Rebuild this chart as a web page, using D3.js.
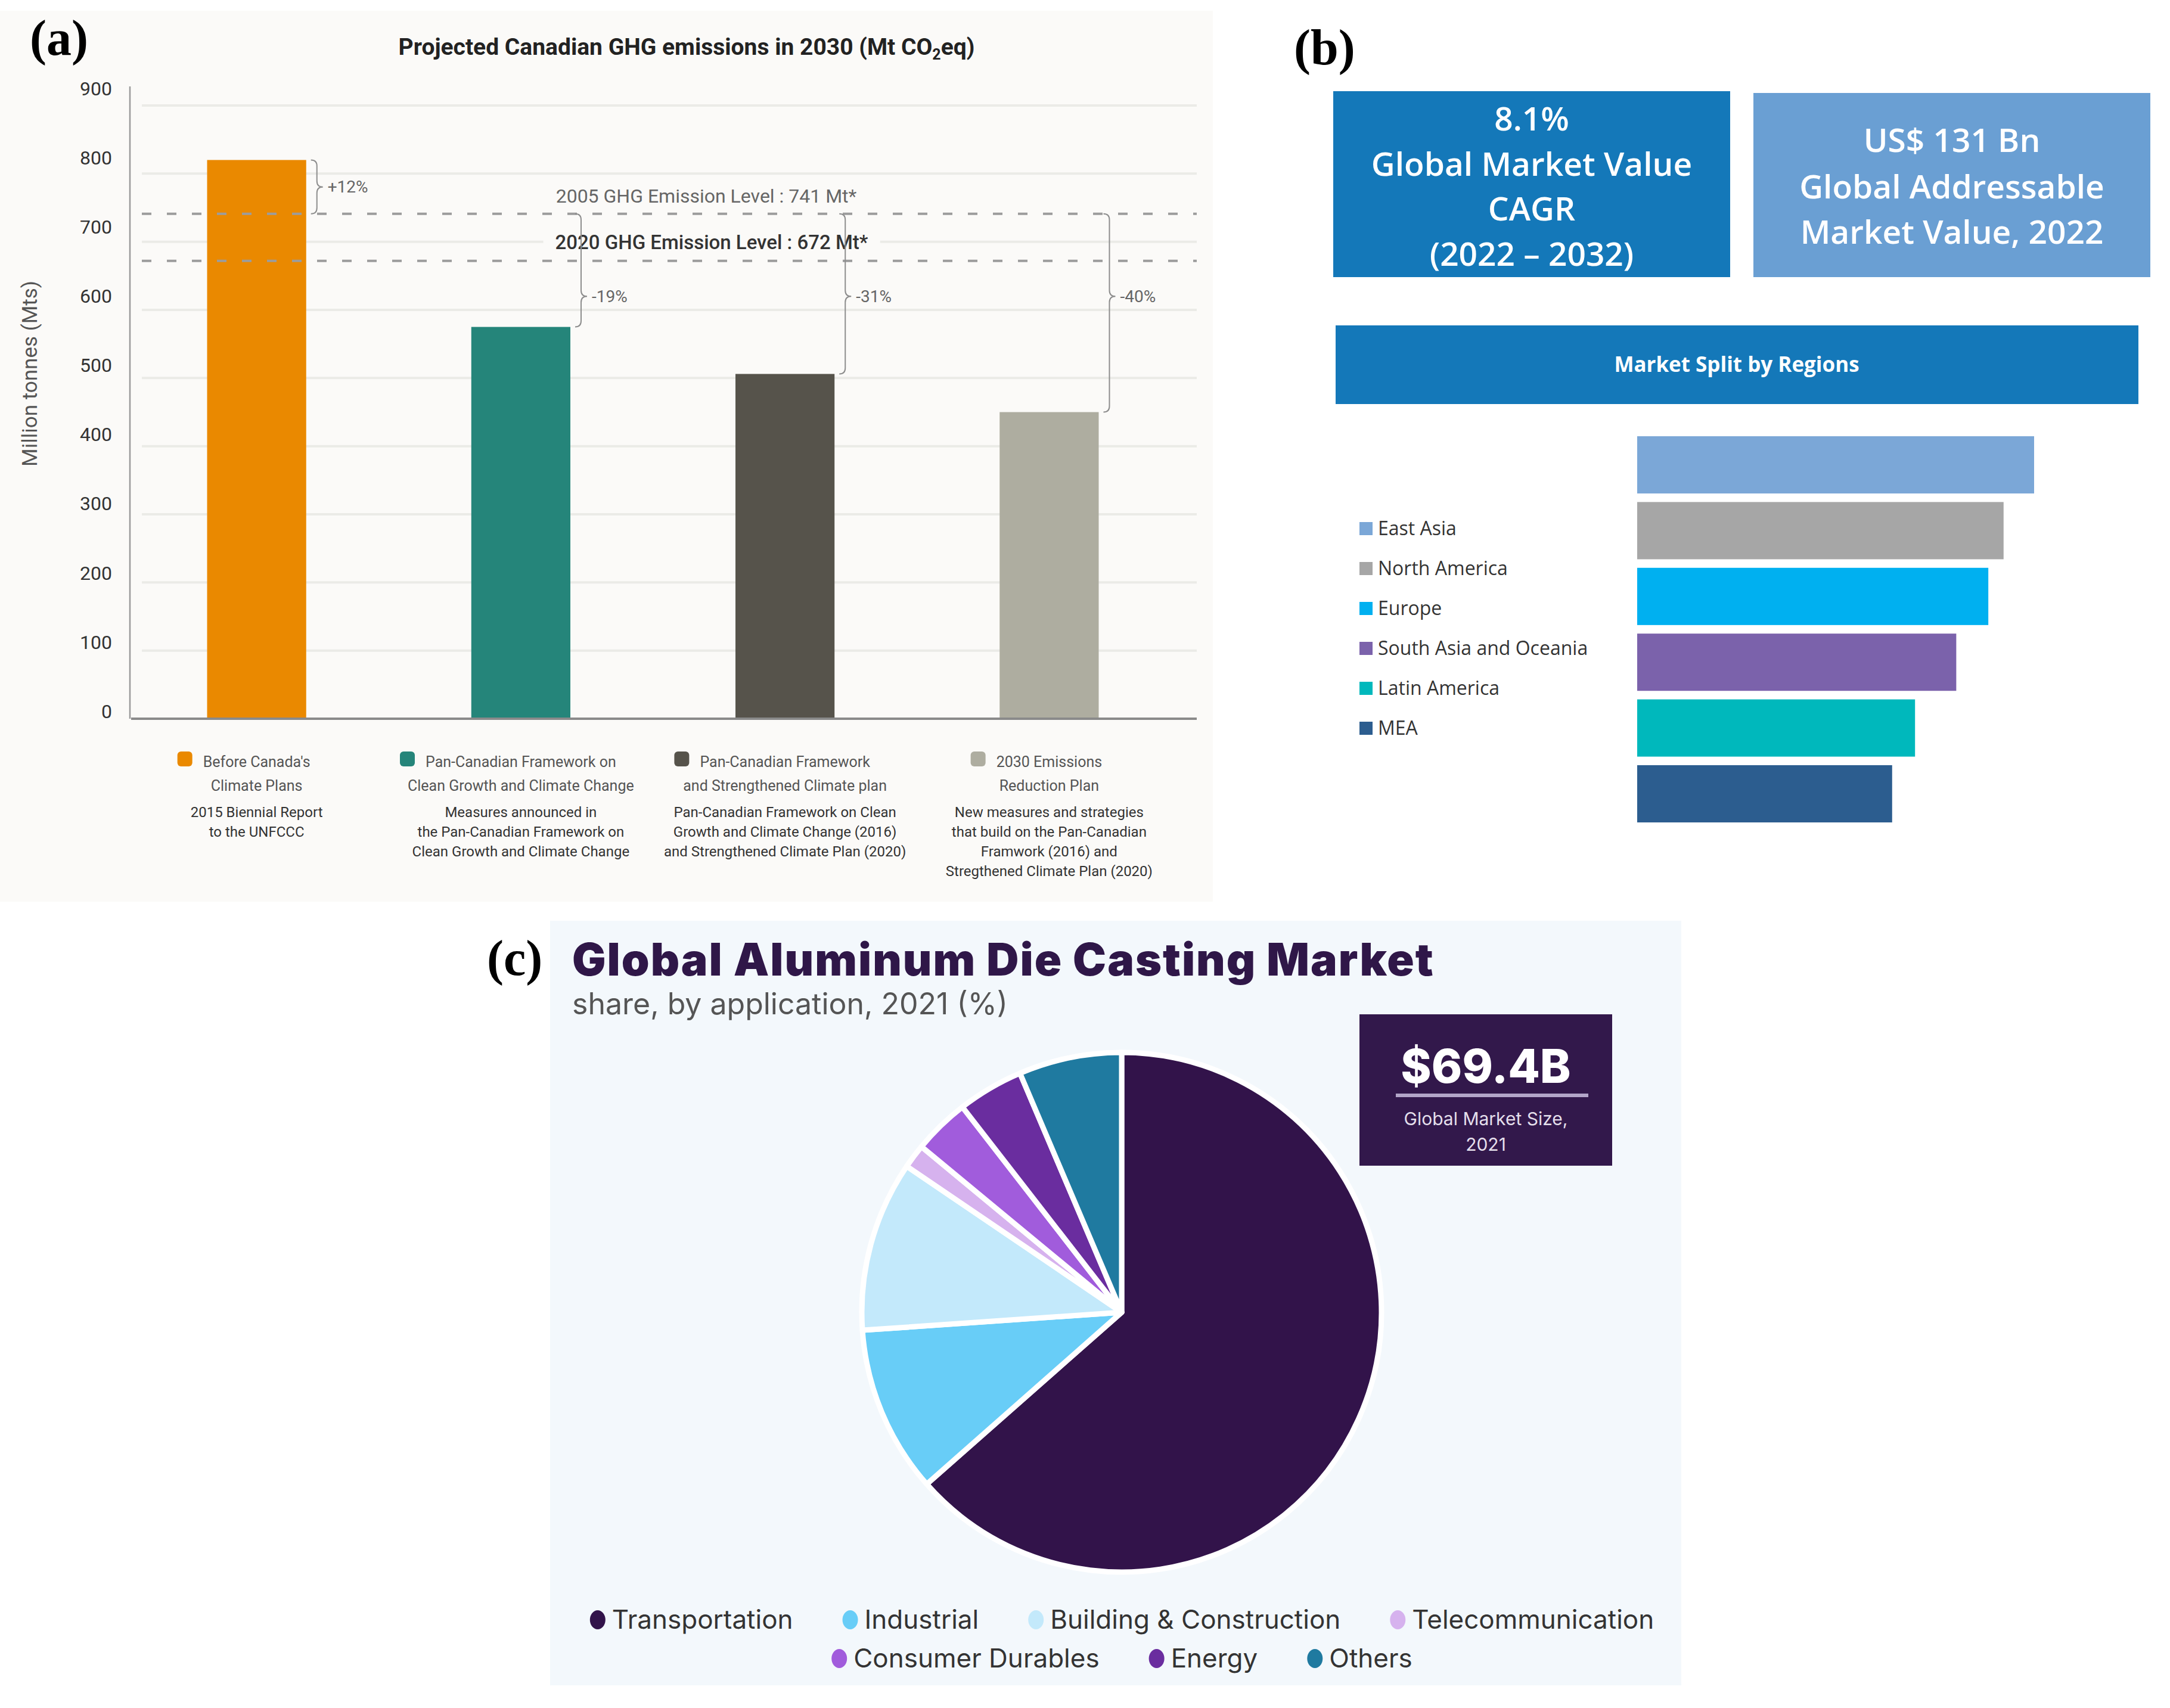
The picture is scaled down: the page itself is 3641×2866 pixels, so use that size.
<!DOCTYPE html>
<head>
<meta charset="utf-8">
<script src="https://cdn.jsdelivr.net/npm/d3@7"></script>
<style>
  body { margin:0; background:#fff; }
  svg { display:block; }
</style>
</head>
<body>
<script>
var width = 3641, height = 2866;

// ---- (a) projected Canadian GHG emissions in 2030
var scenarios = ["before", "pcf", "pcfStrengthened", "erp2030"];
var emissions = [820, 575, 506, 450];
var changeLabels = ["+12%", "-19%", "-31%", "-40%"];
var scenarioColors = ["#ea8900", "#25857a", "#56534b", "#aeada0"];
var scenarioTitles = [
  ["Before Canada's", "Climate Plans"],
  ["Pan-Canadian Framework on", "Clean Growth and Climate Change"],
  ["Pan-Canadian Framework", "and Strengthened Climate plan"],
  ["2030 Emissions", "Reduction Plan"]
];
var scenarioNotes = [
  ["2015 Biennial Report", "to the UNFCCC"],
  ["Measures announced in", "the Pan-Canadian Framework on", "Clean Growth and Climate Change"],
  ["Pan-Canadian Framework on Clean", "Growth and Climate Change (2016)", "and Strengthened Climate Plan (2020)"],
  ["New measures and strategies", "that build on the Pan-Canadian", "Framwork (2016) and", "Stregthened Climate Plan (2020)"]
];
var yTicks = [0, 100, 200, 300, 400, 500, 600, 700, 800, 900];
var level2005 = 741, level2020 = 672;
var bracketLabelLevel = 620; // where the -xx% braces point

// ---- (b) market split by regions
var regions = ["East Asia", "North America", "Europe", "South Asia and Oceania", "Latin America", "MEA"];
var regionValues = [26, 24, 23, 20.9, 18.2, 16.7];
var regionColors = ["#7ba7d7", "#a6a6a6", "#00b0f0", "#7b62ab", "#00b8bc", "#2c5d8f"];
var cagrLines = ["8.1%", "Global Market Value", "CAGR", "(2022 \u2013 2032)"];
var tamLines = ["US$ 131 Bn", "Global Addressable", "Market Value, 2022"];

// ---- (c) aluminum die casting market share by application
var applications = ["Transportation", "Industrial", "Building & Construction", "Telecommunication", "Consumer Durables", "Energy", "Others"];
var shares = [63.5, 10.4, 10.6, 1.5, 3.5, 4.1, 6.4];
var appColors = ["#32134a", "#68cdf7", "#c3e9fb", "#d6b2ee", "#a15cdc", "#6a2d9f", "#1f7aa0"];
var legendRows = [[0, 1, 2, 3], [4, 5, 6]];

var svg = d3.select("body").append("svg")
  .attr("width", width).attr("height", height);
svg.append("rect").attr("width", width).attr("height", height).attr("fill", "#fff");

// =================== (a) ===================
var gA = svg.append("g").attr("font-family", "Roboto, sans-serif");
var bgA = "#fbfaf8";
gA.append("rect").attr("x", 0).attr("y", 18).attr("width", 2035).attr("height", 1495).attr("fill", bgA);

var x = d3.scaleBand().domain(scenarios).range([209, 1982])
  .paddingInner(0.625).paddingOuter(0.3125);
var y = d3.scaleLinear().domain([0, 900]).range([1206, 177]);
var yLab = d3.scaleLinear().domain([0, 900]).range([1194, 149]); // labels sit a bit above the grid

var title = gA.append("text").attr("x", 1152).attr("y", 92)
  .attr("text-anchor", "middle").attr("font-weight", "bold").attr("font-size", 39).attr("fill", "#222");
title.append("tspan").text("Projected Canadian GHG emissions in 2030 (Mt CO");
title.append("tspan").attr("font-size", 25).attr("dy", 8).text("2");
title.append("tspan").attr("dy", -8).text("eq)");

// grid
gA.selectAll("line.grid").data(yTicks.slice(1)).enter().append("line")
  .attr("x1", 238).attr("x2", 2008)
  .attr("y1", d => y(d)).attr("y2", d => y(d))
  .attr("stroke", "#ebebe7").attr("stroke-width", 4);

// y axis
var yAxis = gA.append("g").attr("transform", "translate(188,0)")
  .call(d3.axisLeft(yLab).tickValues(yTicks).tickSize(0).tickPadding(0));
yAxis.select(".domain").remove();
yAxis.selectAll("text").attr("font-size", 32).attr("fill", "#333").attr("font-family", "Roboto, sans-serif");
gA.append("line").attr("x1", 218).attr("x2", 218).attr("y1", 145).attr("y2", y(0))
  .attr("stroke", "#9a9a9a").attr("stroke-width", 2.5);

gA.append("text").attr("transform", "translate(62," + 627 + ") rotate(-90)")
  .attr("text-anchor", "middle").attr("font-size", 35).attr("fill", "#555")
  .text("Million tonnes (Mts)");

// bars
gA.selectAll("rect.bar").data(scenarios).enter().append("rect")
  .attr("class", "bar")
  .attr("x", d => x(d)).attr("width", x.bandwidth())
  .attr("y", (d, i) => y(emissions[i]))
  .attr("height", (d, i) => y(0) - y(emissions[i]))
  .attr("fill", (d, i) => scenarioColors[i]);

gA.append("line").attr("x1", 220).attr("x2", 2008).attr("y1", y(0)).attr("y2", y(0))
  .attr("stroke", "#8a8a8a").attr("stroke-width", 4);

// reference levels
[level2005, level2020].forEach(function (v) {
  gA.append("line").attr("x1", 238).attr("x2", 2008).attr("y1", y(v)).attr("y2", y(v))
    .attr("stroke", "#9c9c9c").attr("stroke-width", 4).attr("stroke-dasharray", "16,26");
});
gA.append("text").attr("x", 1185).attr("y", y(level2005) - 30).attr("dy", "0.35em")
  .attr("text-anchor", "middle").attr("font-size", 32).attr("fill", "#666")
  .text("2005 GHG Emission Level : " + level2005 + " Mt*");
var t2020 = gA.append("text").attr("x", 1194).attr("y", (y(level2005) + y(level2020)) / 2 + 8).attr("dy", "0.35em")
  .attr("text-anchor", "middle").attr("font-size", 33).attr("font-weight", 500).attr("fill", "#333")
  .text("2020 GHG Emission Level : " + level2020 + " Mt*");
var bb = t2020.node().getBBox();
gA.insert("rect", function () { return t2020.node(); })
  .attr("x", bb.x - 20).attr("y", bb.y - 4).attr("width", bb.width + 40).attr("height", bb.height + 8)
  .attr("fill", bgA);

// braces with % change
function brace(x0, y1, y2, ym) {
  var x1 = x0 + 10, x2 = x0 + 20;
  return "M" + x0 + "," + y1 + " Q" + x1 + "," + y1 + " " + x1 + "," + (y1 + 10) +
    " L" + x1 + "," + (ym - 10) + " Q" + x1 + "," + ym + " " + x2 + "," + ym +
    " Q" + x1 + "," + ym + " " + x1 + "," + (ym + 10) +
    " L" + x1 + "," + (y2 - 10) + " Q" + x1 + "," + y2 + " " + x0 + "," + y2;
}
scenarios.forEach(function (s, i) {
  var x0 = x(s) + x.bandwidth() + 8;
  var y1, y2, ym;
  if (emissions[i] > level2005) {
    y1 = y(emissions[i]); y2 = y(level2005); ym = (y1 + y2) / 2;
  } else {
    y1 = y(level2005); y2 = y(emissions[i]); ym = y(bracketLabelLevel);
  }
  gA.append("path").attr("d", brace(x0, y1, y2, ym))
    .attr("fill", "none").attr("stroke", "#8d8d8d").attr("stroke-width", 2);
  gA.append("text").attr("x", x0 + 28).attr("y", ym).attr("dy", "0.35em")
    .attr("font-size", 28).attr("fill", "#666").text(changeLabels[i]);
});

// legend under the bars
scenarios.forEach(function (s, i) {
  var cx = x(s) + x.bandwidth() / 2;
  var g = gA.append("g");
  var first;
  scenarioTitles[i].forEach(function (line, j) {
    var t = g.append("text").attr("x", cx).attr("y", 1287 + j * 40)
      .attr("text-anchor", "middle").attr("font-size", 25).attr("fill", "#555").text(line);
    if (j === 0) first = t;
  });
  scenarioNotes[i].forEach(function (line, j) {
    g.append("text").attr("x", cx).attr("y", 1371 + j * 33)
      .attr("text-anchor", "middle").attr("font-size", 24).attr("fill", "#333").text(line);
  });
  var w = first.node().getComputedTextLength();
  g.append("rect").attr("x", cx - w / 2 - 18 - 25).attr("y", 1261).attr("width", 25).attr("height", 25)
    .attr("rx", 6).attr("fill", scenarioColors[i]);
});

// =================== (b) ===================
var gB = svg.append("g").attr("font-family", "'Open Sans', sans-serif");

function kpiBox(x0, y0, w, h, fill, lines, ys) {
  gB.append("rect").attr("x", x0).attr("y", y0).attr("width", w).attr("height", h).attr("fill", fill);
  lines.forEach(function (l, i) {
    gB.append("text").attr("x", x0 + w / 2).attr("y", ys[i]).attr("dy", "0.35em")
      .attr("text-anchor", "middle").attr("font-size", 55).attr("font-weight", 600)
      .attr("fill", "#fff").text(l);
  });
}
kpiBox(2237, 153, 666, 312, "#1478b9", cagrLines, [200, 276, 351, 427]);
kpiBox(2942, 156, 666, 309, "#6a9fd3", tamLines, [236, 314, 390]);

gB.append("rect").attr("x", 2241).attr("y", 546).attr("width", 1347).attr("height", 132).attr("fill", "#1478b9");
gB.append("text").attr("x", 2914).attr("y", 612).attr("dy", "0.35em")
  .attr("text-anchor", "middle").attr("font-size", 35).attr("font-weight", 700).attr("fill", "#fff")
  .text("Market Split by Regions");

var yb = d3.scaleBand().domain(regions).range([732, 1380]).paddingInner(0.13).paddingOuter(0);
var xb = d3.scaleLinear().domain([0, 26]).range([2747, 3413]);

gB.selectAll("rect.region").data(regions).enter().append("rect")
  .attr("class", "region")
  .attr("x", xb(0)).attr("y", d => yb(d))
  .attr("width", (d, i) => xb(regionValues[i]) - xb(0))
  .attr("height", yb.bandwidth())
  .attr("fill", (d, i) => regionColors[i]);

var legB = gB.selectAll("g.leg").data(regions).enter().append("g")
  .attr("transform", (d, i) => "translate(2281," + (887 + i * 67) + ")");
legB.append("rect").attr("x", 0).attr("y", -11).attr("width", 22).attr("height", 22)
  .attr("fill", (d, i) => regionColors[i]);
legB.append("text").attr("x", 31).attr("dy", "0.35em").attr("font-size", 32).attr("fill", "#333")
  .text(d => d);

// =================== (c) ===================
var gC = svg.append("g").attr("font-family", "Inter, sans-serif");
gC.append("rect").attr("x", 923).attr("y", 1545).attr("width", 1898).attr("height", 1283).attr("fill", "#f3f8fc");

gC.append("text").attr("x", 960).attr("y", 1637)
  .attr("font-size", 75).attr("font-weight", 900).attr("letter-spacing", 2).attr("fill", "#2f1748")
  .text("Global Aluminum Die Casting Market");
gC.append("text").attr("x", 960).attr("y", 1702)
  .attr("font-size", 50).attr("fill", "#555")
  .text("share, by application, 2021 (%)");

gC.append("rect").attr("x", 2281).attr("y", 1702).attr("width", 424).attr("height", 254).attr("fill", "#32184b");
gC.append("text").attr("x", 2493).attr("y", 1817).attr("text-anchor", "middle")
  .attr("font-size", 78).attr("font-weight", 800).attr("fill", "#fff").text("$69.4B");
gC.append("line").attr("x1", 2342).attr("x2", 2665).attr("y1", 1838).attr("y2", 1838)
  .attr("stroke", "#b3a6c9").attr("stroke-width", 6);
gC.append("text").attr("x", 2493).attr("y", 1877).attr("dy", "0.35em").attr("text-anchor", "middle")
  .attr("font-size", 30).attr("fill", "#e4dfeb").text("Global Market Size,");
gC.append("text").attr("x", 2493).attr("y", 1920).attr("dy", "0.35em").attr("text-anchor", "middle")
  .attr("font-size", 30).attr("fill", "#e4dfeb").text("2021");

var pie = d3.pie().sort(null).value(d => d);
var arc = d3.arc().innerRadius(0).outerRadius(436);
gC.append("g").attr("transform", "translate(1882,2202)")
  .selectAll("path").data(pie(shares)).enter().append("path")
  .attr("d", arc)
  .attr("fill", (d, i) => appColors[i])
  .attr("stroke", "#fff").attr("stroke-width", 9).attr("stroke-linejoin", "round");

// legend rows, centered under the pie
legendRows.forEach(function (row, r) {
  var gy = r === 0 ? 2718 : 2783;
  var g = gC.append("g");
  var xpos = 0;
  row.forEach(function (k, j) {
    var item = g.append("g").attr("transform", "translate(" + xpos + ",0)");
    item.append("ellipse").attr("cx", 14).attr("cy", 0).attr("rx", 13).attr("ry", 16).attr("fill", appColors[k]);
    var t = item.append("text").attr("x", 38).attr("dy", "0.35em")
      .attr("font-size", 44).attr("fill", "#333").text(applications[k]);
    xpos += 38 + t.node().getComputedTextLength() + (j < row.length - 1 ? 82 : 0);
  });
  g.attr("transform", "translate(" + (1882 - xpos / 2) + "," + gy + ")");
});

// panel letters, drawn last so the panel backgrounds don't hide them
var letters = [["(a)", 50, 92], ["(b)", 2171, 108], ["(c)", 817, 1636]];
svg.selectAll("text.letter").data(letters).enter().append("text")
  .attr("class", "letter")
  .attr("x", d => d[1]).attr("y", d => d[2])
  .attr("font-family", "'Liberation Serif', 'Times New Roman', serif")
  .attr("font-weight", "bold").attr("font-size", 84).attr("fill", "#000")
  .text(d => d[0]);
</script>
</body>
</html>
